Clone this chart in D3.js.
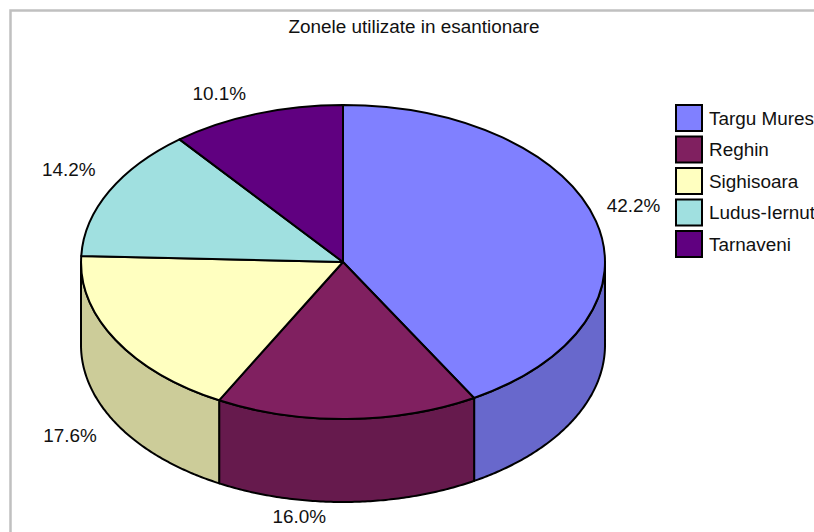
<!DOCTYPE html>
<html>
<head>
<meta charset="utf-8">
<script src="https://cdn.jsdelivr.net/npm/d3@7"></script>
<style>
  html, body { margin: 0; padding: 0; background: #fff; overflow: hidden; }
  text { font-family: "Liberation Sans", Arial, sans-serif; fill: #111; }
</style>
</head>
<body>
<svg id="chart" width="814" height="532"></svg>
<script>
// values as printed on the slice labels
const zones = ["Targu Mures", "Reghin", "Sighisoara", "Ludus-Iernut", "Tarnaveni"];
const shares = [42.2, 16.0, 17.6, 14.2, 10.1];
const topColors = ["#8080ff", "#802060", "#ffffc0", "#a0e0e0", "#600080"];
const sideColors = ["#6868cc", "#661a4d", "#cccc99", "#80b3b3", "#4d0066"];
// label nudge from the radial anchor
const labelNudge = [[11, -11], [-41, -17], [-21, -1], [-20, -4], [-34, 10]];
// the 3d view draws each slice's end edge a little off its true angle (degrees)
const edgeSkew = [-1.8, -1.1, -0.4, -2.3, 0];

const svg = d3.select("#chart");
const cx = 343, cy = 262, rx = 262, ry = 157, depth = 83;
const fontSize = 18.9;

// frame runs off the right and bottom of the picture
svg.append("rect")
  .attr("x", 10.5).attr("y", 10.5).attr("width", 900).attr("height", 700)
  .attr("fill", "#fff").attr("stroke", "#c0c0c0").attr("stroke-width", 2.5);

svg.append("text")
  .attr("x", 414).attr("y", 33)
  .attr("text-anchor", "middle")
  .attr("font-size", fontSize)
  .text("Zonele utilizate in esantionare");

const slices = d3.pie().sort(null).value(d => d)(shares);

const toRad = Math.PI / 180;
const drawn = d3.scaleLinear()
  .domain([0].concat(slices.map(s => s.endAngle)))
  .range([0].concat(slices.map((s, i) => s.endAngle + edgeSkew[i] * toRad)));

// ellipse projection of an angle measured clockwise from the top
const ex = a => cx + rx * Math.sin(a);
const ey = a => cy - ry * Math.cos(a);

const arc = d3.arc().innerRadius(0).outerRadius(1);
const pie = svg.append("g");

// side walls, only the front half of the ellipse shows
const front = [Math.PI / 2, Math.PI * 3 / 2];
const rim = d3.line().x(d => d[0]).y(d => d[1]);
slices.forEach((s, i) => {
  const a0 = Math.max(drawn(s.startAngle), front[0]);
  const a1 = Math.min(drawn(s.endAngle), front[1]);
  if (a1 <= a0) return;
  const angles = d3.range(a0, a1, 0.01).concat([a1]);
  const pts = angles.map(a => [ex(a), ey(a)])
    .concat(angles.slice().reverse().map(a => [ex(a), ey(a) + depth]));
  pie.append("path")
    .attr("d", rim(pts) + "Z")
    .attr("fill", sideColors[i])
    .attr("stroke", "#000")
    .attr("stroke-width", 2)
    .attr("stroke-linejoin", "round");
});

// top face: unit arcs squashed into the ellipse
slices.forEach((s, i) => {
  pie.append("path")
    .attr("transform", `translate(${cx},${cy}) scale(${rx},${ry})`)
    .attr("d", arc({ startAngle: drawn(s.startAngle), endAngle: drawn(s.endAngle) }))
    .attr("fill", topColors[i])
    .attr("stroke", "#000")
    .attr("stroke-width", 2)
    .attr("vector-effect", "non-scaling-stroke")
    .attr("stroke-linejoin", "round");
});

// slice labels
slices.forEach((s, i) => {
  const mid = (s.startAngle + s.endAngle) / 2;
  const bx = cx + rx * 1.1 * Math.sin(mid);
  const by = cy - ry * 1.2 * Math.cos(mid) + (Math.cos(mid) < 0 ? depth : 0);
  svg.append("text")
    .attr("x", bx + labelNudge[i][0])
    .attr("y", by + labelNudge[i][1])
    .attr("dy", "0.35em")
    .attr("text-anchor", "middle")
    .attr("font-size", fontSize)
    .text(shares[i].toFixed(1) + "%");
});

// legend
const legendY = d3.scalePoint().domain(zones).range([118, 244]);
const legend = svg.append("g");
zones.forEach((z, i) => {
  legend.append("rect")
    .attr("x", 676).attr("y", legendY(z) - 13)
    .attr("width", 26).attr("height", 26)
    .attr("fill", topColors[i])
    .attr("stroke", "#000").attr("stroke-width", 2);
  legend.append("text")
    .attr("x", 709).attr("y", legendY(z))
    .attr("dy", "0.35em")
    .attr("font-size", fontSize)
    .text(z);
});
</script>
</body>
</html>
